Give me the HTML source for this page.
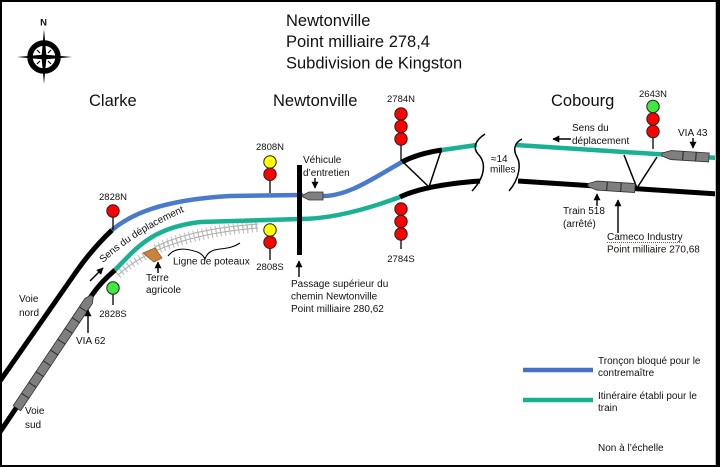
<!DOCTYPE html>
<html><head><meta charset="utf-8"><style>
html,body{margin:0;padding:0;background:#fff;}
svg{display:block;}
text{font-family:"Liberation Sans",Arial,sans-serif;fill:#111;}
.t{font-size:10px;}
.s{font-size:9.5px;text-anchor:middle;}
.h{font-size:16.5px;}
</style></head><body>
<svg width="720" height="467" viewBox="0 0 720 467" xmlns="http://www.w3.org/2000/svg">
<defs>
<marker id="ah" viewBox="0 0 10 10" refX="9" refY="5" markerWidth="7" markerHeight="7" markerUnits="userSpaceOnUse" orient="auto">
<path d="M0,0 L10,5 L0,10 z" fill="#000"/>
</marker>
</defs>
<rect width="720" height="467" fill="#fff"/>

<!-- compass -->
<text x="43.5" y="25.5" style="font-size:9.5px;font-weight:bold;text-anchor:middle">N</text>
<circle cx="44" cy="57" r="14" fill="none" stroke="#000" stroke-width="5.5"/>
<polygon points="44,29 46.3,54.7 72,57 46.3,59.3 44,84 41.7,59.3 17,57 41.7,54.7" fill="#000"/>
<g stroke="#000" stroke-width="1.2">
<line x1="37" y1="50" x2="40" y2="53"/><line x1="51" y1="50" x2="48" y2="53"/>
<line x1="37" y1="64" x2="40" y2="61"/><line x1="51" y1="64" x2="48" y2="61"/>
</g>

<!-- titles -->
<text x="286" y="26" class="h">Newtonville</text>
<text x="286" y="47" class="h">Point milliaire 278,4</text>
<text x="286" y="68.5" class="h">Subdivision de Kingston</text>
<text x="89" y="106" class="h">Clarke</text>
<text x="273" y="106" class="h">Newtonville</text>
<text x="551" y="106" class="h">Cobourg</text>

<!-- pole line (hatched) -->
<g fill="none" stroke="#a8a8a8">
<path d="M118,275 Q160,236 258,228" stroke-width="1"/>
<path d="M118,275 Q160,236 258,228" stroke-width="8" stroke-dasharray="1 3.5" stroke="#b4b4b4"/>
<path d="M155,247 Q190,229 258,224" stroke-width="1"/>
<path d="M155,247 Q190,229 258,224" stroke-width="6" stroke-dasharray="1 3.5" stroke="#bcbcbc"/>
</g>

<!-- tracks -->
<g fill="none" stroke-linecap="butt">
<path d="M0,381 L76,272 Q92,249 112,230" stroke="#000" stroke-width="5"/>
<path d="M112,230 C130,215 160,200 230,196 L303,195" stroke="#4a7acb" stroke-width="4.5"/>
<path d="M323,196 C348,196 372,179 402,162" stroke="#4a7acb" stroke-width="4.5"/>
<path d="M402,162 Q418,153.5 442,150" stroke="#000" stroke-width="5"/>
<path d="M442,150 L477,145" stroke="#19b094" stroke-width="4.5"/>

<path d="M0,432 L92,295 Q100,283 115,270" stroke="#000" stroke-width="5"/>
<path d="M115,270 C135,250 150,228 200,222 L300,219 C330,219 365,210 400,197" stroke="#19b094" stroke-width="4.5"/>
<path d="M400,197 Q425,185 480,181" stroke="#000" stroke-width="5"/>

<path d="M516,145 L718,158" stroke="#19b094" stroke-width="4.5"/>
<path d="M518,181 L718,194" stroke="#000" stroke-width="5"/>
</g>

<!-- crossovers -->
<g stroke="#000" stroke-width="1.5">
<line x1="404" y1="163" x2="429" y2="187"/>
<line x1="441" y1="151" x2="429" y2="187"/>
<line x1="624" y1="155" x2="637" y2="188"/>
<line x1="657" y1="157" x2="637" y2="188"/>
</g>

<!-- break marks -->
<g fill="none" stroke="#000" stroke-width="1.5">
<path d="M485,134 C476,140 472,147 478,154 C486,162 486,176 472,191"/>
<path d="M522,139 C514,143 513,150 517,157 C521,164 520,178 509,191"/>
</g>
<text x="491" y="162" class="t">≈14</text>
<text x="490" y="172.5" class="t">milles</text>

<!-- overpass -->
<rect x="297" y="165" width="5" height="90" fill="#000"/>

<!-- vehicle -->
<polygon points="303,195 309,192 323,192 323,200 309,200 303,197" fill="#808080" stroke="#333" stroke-width="0.8"/>

<!-- VIA 62 train -->
<g transform="translate(92,296) rotate(123.8)">
<polygon points="0,-1.5 6,-4.5 135,-4.5 135,4.5 6,4.5 0,1.5" fill="#7f7f7f" stroke="#333" stroke-width="0.8"/>
<g stroke="#222" stroke-width="0.9">
<line x1="16" y1="-4.5" x2="16" y2="4.5"/><line x1="29" y1="-4.5" x2="29" y2="4.5"/>
<line x1="42" y1="-4.5" x2="42" y2="4.5"/><line x1="55" y1="-4.5" x2="55" y2="4.5"/>
<line x1="68" y1="-4.5" x2="68" y2="4.5"/><line x1="81" y1="-4.5" x2="81" y2="4.5"/>
<line x1="94" y1="-4.5" x2="94" y2="4.5"/><line x1="107" y1="-4.5" x2="107" y2="4.5"/>
<line x1="120" y1="-4.5" x2="120" y2="4.5"/>
</g>
</g>

<!-- VIA 43 train -->
<g transform="translate(662,154.5) rotate(3.6)">
<polygon points="0,-1.5 9,-4.5 47,-4.5 47,4.5 9,4.5 0,1.5" fill="#7f7f7f" stroke="#333" stroke-width="0.8"/>
<line x1="21" y1="-4.5" x2="21" y2="4.5" stroke="#222"/><line x1="34" y1="-4.5" x2="34" y2="4.5" stroke="#222"/>
</g>

<!-- Train 518 -->
<g transform="translate(588,185) rotate(3.7)">
<polygon points="0,-1.5 9,-4.5 47,-4.5 47,4.5 9,4.5 0,1.5" fill="#7f7f7f" stroke="#333" stroke-width="0.8"/>
<line x1="19" y1="-4.5" x2="19" y2="4.5" stroke="#222"/><line x1="33" y1="-4.5" x2="33" y2="4.5" stroke="#222"/>
</g>

<!-- signals -->
<g stroke="#000" stroke-width="1.3">
<line x1="113" y1="217" x2="113" y2="230"/>
<line x1="113" y1="294" x2="113" y2="305"/>
<line x1="270" y1="180" x2="270" y2="193"/>
<line x1="270" y1="248" x2="270" y2="260"/>
<line x1="401" y1="145" x2="401" y2="161"/>
<line x1="401" y1="240" x2="401" y2="249"/>
<line x1="653" y1="138" x2="653" y2="149"/>
</g>
<g stroke="#222" stroke-width="1">
<circle cx="113" cy="211" r="6.2" fill="#ff0000"/>
<circle cx="113" cy="288" r="6.2" fill="#3ee83e"/>
<circle cx="270" cy="162" r="6.2" fill="#ffff00"/>
<circle cx="270" cy="174.3" r="6.2" fill="#ff0000"/>
<circle cx="270" cy="230" r="6.2" fill="#ffff00"/>
<circle cx="270" cy="242.3" r="6.2" fill="#ff0000"/>
<circle cx="401" cy="114" r="6.2" fill="#ff0000"/>
<circle cx="401" cy="126.5" r="6.2" fill="#ff0000"/>
<circle cx="401" cy="139" r="6.2" fill="#ff0000"/>
<circle cx="401" cy="209" r="6.2" fill="#ff0000"/>
<circle cx="401" cy="221.5" r="6.2" fill="#ff0000"/>
<circle cx="401" cy="234" r="6.2" fill="#ff0000"/>
<circle cx="653" cy="106.5" r="6.2" fill="#3ee83e"/>
<circle cx="653" cy="119" r="6.2" fill="#ff0000"/>
<circle cx="653" cy="131.5" r="6.2" fill="#ff0000"/>
</g>
<text x="113" y="200" class="s">2828N</text>
<text x="113" y="317" class="s">2828S</text>
<text x="270" y="150" class="s">2808N</text>
<text x="270" y="270" class="s">2808S</text>
<text x="401" y="102" class="s">2784N</text>
<text x="401" y="262" class="s">2784S</text>
<text x="653" y="97" class="s">2643N</text>

<!-- farm land -->
<polygon points="143,253 155,248 162,258 154,262" fill="#c8843c" stroke="#8b5a2b" stroke-width="0.8"/>
<!-- brace for pole line -->
<path d="M168,256 C174,248 184,248 194,251 C199,252 203,255 205,259 C207,253 211,250 220,249 C229,248 234,247 240,243" fill="none" stroke="#000" stroke-width="1.1"/>

<!-- arrows -->
<g stroke="#000" stroke-width="1.4" marker-end="url(#ah)">
<line x1="88" y1="333" x2="88" y2="310"/>
<line x1="158" y1="273" x2="158" y2="262"/>
<line x1="315" y1="178" x2="315" y2="188"/>
<line x1="299" y1="277" x2="299" y2="261"/>
<line x1="571" y1="139" x2="553" y2="139"/>
<line x1="693" y1="138" x2="693" y2="148"/>
<line x1="597" y1="206" x2="597" y2="194"/>
<line x1="618" y1="233" x2="618" y2="200"/>
<line x1="90" y1="281" x2="103" y2="268"/>
</g>

<!-- rotated text -->
<path id="sp" d="M103,263 Q140,229 196,207" fill="none"/>
<text class="t"><textPath href="#sp">Sens du déplacement</textPath></text>

<!-- labels -->
<text x="19" y="302" class="t">Voie</text>
<text x="19" y="316" class="t">nord</text>
<text x="25" y="414" class="t">Voie</text>
<text x="25" y="428" class="t">sud</text>
<text x="76" y="344" class="t">VIA 62</text>
<text x="146" y="281" class="t">Terre</text>
<text x="146" y="293" class="t">agricole</text>
<text x="173" y="264.5" class="t">Ligne de poteaux</text>
<text x="303" y="163" class="t">Véhicule</text>
<text x="303" y="176" class="t">d’entretien</text>
<text x="291" y="287" class="t">Passage supérieur du</text>
<text x="291" y="299.5" class="t">chemin Newtonville</text>
<text x="291" y="312" class="t">Point milliaire 280,62</text>
<text x="572" y="131" class="t">Sens du</text>
<text x="572" y="144" class="t">déplacement</text>
<text x="678" y="136" class="t">VIA 43</text>
<text x="563" y="214" class="t">Train 518</text>
<text x="563" y="227" class="t">(arrêté)</text>
<text x="607" y="240" class="t">Cameco Industry</text>
<line x1="607" y1="242.5" x2="682" y2="242.5" stroke="#e03030" stroke-width="1" stroke-dasharray="1 1"/>
<text x="607" y="252.5" class="t">Point milliaire 270,68</text>

<!-- legend -->
<line x1="523" y1="370" x2="593" y2="370" stroke="#4472c4" stroke-width="4.5"/>
<line x1="523" y1="400" x2="593" y2="400" stroke="#16b092" stroke-width="4.5"/>
<text x="598" y="364" class="t">Tronçon bloqué pour le</text>
<text x="598" y="376" class="t">contremaître</text>
<text x="598" y="399" class="t">Itinéraire établi pour le</text>
<text x="598" y="411" class="t">train</text>
<text x="598" y="451" class="t">Non à l’échelle</text>

<!-- border -->
<rect x="0" y="0" width="720" height="2" fill="#000"/>
<rect x="0" y="0" width="2" height="467" fill="#000"/>
<rect x="0" y="465" width="720" height="2" fill="#000"/>
<rect x="716" y="0" width="4" height="467" fill="#000"/>
<rect x="715" y="2" width="1" height="463" fill="#bbb"/>
</svg>
</body></html>
